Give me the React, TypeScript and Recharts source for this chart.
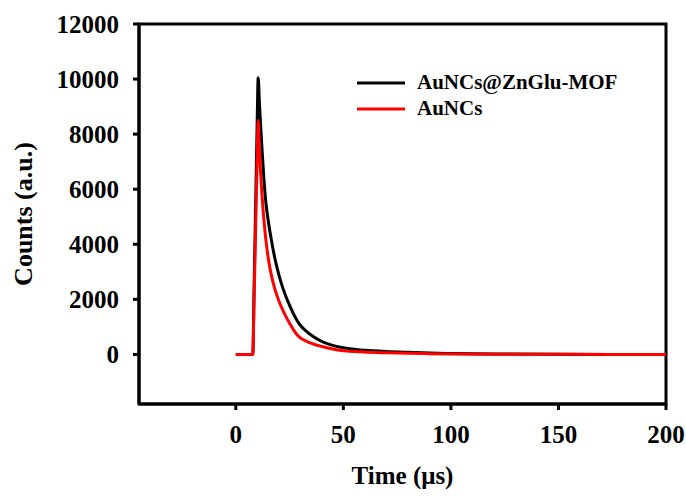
import React from 'react';
import { LineChart, Line, XAxis, YAxis, ReferenceArea, Label, Legend } from 'recharts';

if (typeof document !== 'undefined') {
  document.body.style.margin = '0';
}

const times = [0, 4, 7.9, 8.5, 9, 9.5, 10, 10.4, 11, 12, 13, 14, 15, 16, 18, 20, 22, 25, 28, 30, 33, 36, 40, 45, 50, 55, 60, 70, 80, 90, 100, 120, 150, 200];
const mofCounts = [0, 0, 0, 2400, 4500, 6600, 8700, 10050, 9100, 7700, 6450, 5500, 4900, 4400, 3550, 2900, 2380, 1780, 1300, 1060, 830, 650, 470, 330, 240, 185, 150, 105, 75, 50, 35, 15, 5, 0];
const auCounts = [0, 0, 0, 2000, 3800, 5600, 7400, 8500, 7400, 6000, 4950, 4150, 3550, 3080, 2420, 1950, 1580, 1130, 760, 600, 470, 380, 290, 195, 135, 105, 85, 60, 40, 28, 18, 8, 3, 0];
const xTicks = [0, 50, 100, 150, 200];
const yTicks = [0, 2000, 4000, 6000, 8000, 10000, 12000];
const seriesNames = ['AuNCs@ZnGlu-MOF', 'AuNCs'];
const seriesColors = ['#000000', '#ff0000'];

const data = times.map((t, i) => ({ t, mof: mofCounts[i], au: auCounts[i] }));

const font = 'Liberation Serif, Times New Roman, serif';

const LegendContent = () => (
  <svg width={300} height={60}>
    {seriesNames.map((name, i) => (
      <g key={name}>
        <line x1={7} x2={55} y1={18 + i * 26} y2={18 + i * 26} stroke={seriesColors[i]} strokeWidth={3} />
        <text x={67} y={24 + i * 26} fontFamily={font} fontWeight="bold" fontSize={21} fill="#000">
          {name}
        </text>
      </g>
    ))}
  </svg>
);

export default function App() {
  return (
    <LineChart width={686} height={497} data={data} margin={{ top: 24, right: 20, bottom: 23, left: 0 }}>
      <XAxis
        dataKey="t"
        type="number"
        domain={[-45, 200]}
        ticks={xTicks}
        allowDataOverflow
        axisLine={{ stroke: '#000', strokeWidth: 3 }}
        tickLine={{ stroke: '#000', strokeWidth: 3 }}
        tickSize={6}
        tickMargin={15}
        height={70}
        tick={{ fill: '#000', fontFamily: font, fontWeight: 'bold', fontSize: 25 }}
      >
        <Label
          value="Time (μs)"
          position="insideBottom"
          offset={-10}
          style={{ fill: '#000', fontFamily: font, fontWeight: 'bold', fontSize: 25 }}
        />
      </XAxis>
      <YAxis
        type="number"
        domain={[-1800, 12000]}
        ticks={yTicks}
        allowDataOverflow
        width={139}
        axisLine={{ stroke: '#000', strokeWidth: 3 }}
        tickLine={{ stroke: '#000', strokeWidth: 3 }}
        tickSize={6}
        tickMargin={14}
        tick={{ fill: '#000', fontFamily: font, fontWeight: 'bold', fontSize: 25 }}
      >
        <Label
          value="Counts (a.u.)"
          angle={-90}
          position="insideLeft"
          offset={23}
          style={{ textAnchor: 'middle', fill: '#000', fontFamily: font, fontWeight: 'bold', fontSize: 26 }}
        />
      </YAxis>
      <ReferenceArea x1={-45} x2={200} y1={-1800} y2={12000} fill="none" stroke="#000" strokeWidth={3} ifOverflow="visible" />
      <Line type="monotone" dataKey="mof" stroke={seriesColors[0]} strokeWidth={3} dot={false} isAnimationActive={false} />
      <Line type="monotone" dataKey="au" stroke={seriesColors[1]} strokeWidth={3} dot={false} isAnimationActive={false} />
      <Legend
        layout="horizontal"
        verticalAlign="middle"
        align="center"
        content={LegendContent}
        wrapperStyle={{ position: 'absolute', left: 350, top: 65, width: 300, height: 60 }}
      />
    </LineChart>
  );
}
